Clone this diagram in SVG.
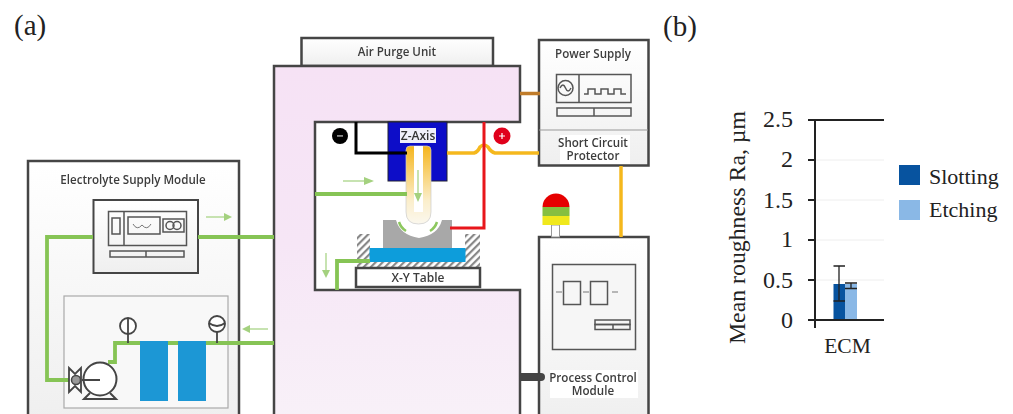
<svg xmlns="http://www.w3.org/2000/svg" width="1013" height="414" viewBox="0 0 1013 414">
<style>
.box{stroke:#444;stroke-width:2.5;fill:url(#pan)}
.thin{stroke:#555;stroke-width:1.5;fill:none}
.thinw{stroke:#555;stroke-width:1.5;fill:#f6f6f6}
.g{stroke:#86c454;stroke-width:3.8;fill:none}
.y{stroke:#f5b81f;stroke-width:3.5;fill:none}
.r{stroke:#e8141c;stroke-width:3;fill:none}
.k{stroke:#000;stroke-width:3;fill:none}
.lab{font-family:"Open Sans","Liberation Sans",sans-serif;font-weight:600;font-size:11.6px;fill:#3c3c3c;text-anchor:middle}
.ser{font-family:"Liberation Serif",serif;fill:#222}
.tick{font-size:24px;text-anchor:end}
.ax{stroke:#222;stroke-width:2;fill:none}
.grid{stroke:#eee;stroke-width:1}
.arw{stroke:#b5da98;stroke-width:1.5;fill:none}
.arwh{fill:#a4d17f}
.ag{stroke:#777;stroke-width:1;fill:none}
</style>
<defs>
<linearGradient id="pan" x1="0" y1="0" x2="0" y2="1"><stop offset="0" stop-color="#fff"/><stop offset="1" stop-color="#efefef"/></linearGradient>
<linearGradient id="pink" x1="0" y1="0" x2="0" y2="1"><stop offset="0" stop-color="#f6e2f5"/><stop offset=".5" stop-color="#f6e6f6"/><stop offset="1" stop-color="#f8f1f8"/></linearGradient>
<linearGradient id="gold" x1="0" y1="0" x2="0" y2="1"><stop offset="0" stop-color="#f5b51c"/><stop offset=".7" stop-color="#fbeecb"/><stop offset="1" stop-color="#fbf8ee"/></linearGradient>
<pattern id="hatch" width="5" height="5" patternUnits="userSpaceOnUse" patternTransform="rotate(45)"><rect width="5" height="5" fill="#fff"/><rect width="2.2" height="5" fill="#888"/></pattern>
<filter id="soft" x="-2%" y="-2%" width="104%" height="104%"><feGaussianBlur stdDeviation="0.45"/></filter>
</defs>
<rect width="1013" height="414" fill="#fff"/>
<text x="14" y="35" class="ser" font-size="29">(a)</text>
<text x="663" y="36" class="ser" font-size="29">(b)</text>
<g filter="url(#soft)">
<g id="air-purge-unit"><rect x="301.500" y="38" width="191.500" height="28" class="box"/><text x="397" y="56" class="lab">Air Purge Unit</text></g>
<g id="electrolyte-supply-module">
<rect x="28" y="161" width="211" height="260" class="box"/>
<text x="133" y="184" class="lab">Electrolyte Supply Module</text>
<rect x="93.500" y="200" width="104.500" height="73" class="box" style="stroke-width:2"/>
<rect x="108.500" y="211.500" width="78" height="34" class="thin"/><path d="M124 212V245" class="thin"/>
<rect x="112" y="218" width="8" height="16" class="thin"/>
<rect x="128" y="217" width="32" height="17" class="thin"/><path d="M133 224q4 7 9 1q5 6 9 -1" class="ag"/>
<rect x="163" y="219" width="21" height="13" class="thin"/><circle cx="170" cy="225.500" r="4" class="thin"/><circle cx="177" cy="225.500" r="4" class="thin"/>
<rect x="110" y="251" width="74" height="6" class="thin"/><path d="M146 251V257" class="thin"/>
<rect x="64" y="296" width="164" height="112" fill="#f8f8f8" stroke="#aaa" stroke-width="1.2"/>
</g>
<g id="machine-frame"><path d="M274 66H520V122H315V290H520V421H274Z" fill="url(#pink)" stroke="#444" stroke-width="2.500"/></g>
<g id="z-axis">
<rect x="388" y="122" width="59" height="59" fill="#0a0ac8" stroke="#223" stroke-width="1"/>
<rect x="400" y="128" width="36" height="15" fill="#f0f0fa"/>
<text x="418" y="140" class="lab" style="font-size:12px;fill:#333">Z-Axis</text>
<path d="M406 150q0-4 4-4h17q4 0 4 4V212q0 12-12.500 12t-12.500-12z" fill="url(#gold)" stroke="#ccc" stroke-width=".7"/>
<rect x="414" y="146" width="9" height="66" fill="#fff"/>
</g>
<g id="workpiece">
<path d="M383 220H396q4 15 23 18q19-3 23-18H452V257H383Z" fill="#a8a8a8"/>
<rect x="357" y="234" width="13" height="30" fill="url(#hatch)"/><rect x="465" y="234" width="15" height="30" fill="url(#hatch)"/>
<rect x="357" y="262" width="123" height="6" fill="url(#hatch)"/>
<rect x="369.500" y="248" width="96" height="14" fill="#0c9ddb"/>
<path d="M399 222q2 6 7 9M437 222q-2 6-7 9" stroke="#8dc85f" stroke-width="2.500" fill="none"/>
</g>
<g id="x-y-table"><rect x="356" y="268" width="124" height="19" class="box" style="fill:#fff"/><text x="418" y="282" class="lab" style="font-size:12px">X-Y Table</text></g>
<g id="power-supply">
<rect x="539" y="40" width="109.500" height="125.500" class="box"/>
<path d="M539 130H648" stroke="#999" stroke-width="1"/>
<text x="593" y="58" class="lab">Power Supply</text>
<rect x="556.500" y="74.500" width="74.500" height="28" class="thin"/><path d="M579 75V102" class="thin"/>
<circle cx="565.500" cy="88" r="7.500" class="thin"/><path d="M560 88q3-6 5.500 0t5.500 0" class="thin"/>
<path d="M584 94h4v-5h7v5h6v-5h7v5h6v-5h7v5h5" class="thin"/>
<rect x="557" y="108" width="74" height="8" class="thin"/><path d="M594 108V116" class="thin"/>
<rect x="560" y="135" width="70" height="29" fill="#fff"/>
<text x="593" y="147" class="lab">Short Circuit</text>
<text x="593" y="160" class="lab">Protector</text>
</g>
<g id="process-control-module">
<rect x="539" y="237" width="109.500" height="185" class="box"/>
<rect x="552.500" y="264.500" width="83" height="85" class="thinw"/>
<rect x="563.500" y="281.500" width="17" height="23" class="thin"/><rect x="590.500" y="281.500" width="17" height="23" class="thin"/>
<path d="M556 292H562M583 292H589M612 292H618" class="ag"/>
<rect x="595" y="320" width="35" height="4.500" class="thin"/><rect x="595" y="324.500" width="35" height="5" class="thin"/><path d="M613 324V330" class="thin"/>
<rect x="550" y="370" width="88" height="28" fill="#fff"/>
<text x="593" y="382" class="lab">Process Control</text>
<text x="593" y="395" class="lab">Module</text>
</g>
<g id="beacon">
<rect x="551.500" y="225" width="8" height="12" fill="#fff" stroke="#999"/>
<path d="M542.500 207a13.500 13.500 0 0 1 27 0z" fill="#e60000"/>
<rect x="542.500" y="207" width="27" height="9" fill="#86bf3f"/><rect x="542.500" y="216" width="27" height="9" fill="#f0e81a"/>
</g>
<g id="connectors">
<path d="M198 237H274M93 237H47V380H70" class="g"/>
<path d="M274 343H115V362H108" class="g"/>
<path d="M315 194H407" class="g"/>
<path d="M337 290V261H370" class="g"/>
<path d="M520 93.500H540" stroke="#c07b2a" stroke-width="3.500"/>
<path d="M447 153H474q4-1 6-6q4-4 8 0q3 5 7 6H539" class="y"/>
<path d="M621 166V237" class="y"/>
<path d="M356 122V153H407" class="k"/>
<path d="M484 122V228H450" class="r"/>
<path d="M521 377H541" stroke="#444" stroke-width="8"/><circle cx="541" cy="377" r="4" fill="#444"/>
<path d="M206 217H224M343 181H364M326 253V270M418 170V198M268 329H250" class="arw"/>
<path d="M224 213l8 4-8 4zM364 177l10 4-10 4zM322 270l4 8 4-8zM414 193l4 9 4-9zM250 325l-8 4 8 4z" class="arwh"/>
</g>
<g id="tanks"><rect x="140" y="341" width="28" height="60" fill="#1a97d5"/><rect x="178" y="341" width="28" height="60" fill="#1a97d5"/></g>
<g id="gauges">
<circle cx="128" cy="326" r="8" fill="#fff" stroke="#444" stroke-width="1.8"/><path d="M128 318V343" stroke="#444" stroke-width="1.8"/>
<circle cx="217" cy="324" r="8" fill="#fff" stroke="#444" stroke-width="1.8"/><path d="M209 323q8 6 16 0M217 332V343" stroke="#444" stroke-width="1.8" fill="none"/>
</g>
<g id="pump">
<path d="M69 368l6 6 6-6v24l-6-6-6 6z" fill="#fff" stroke="#444" stroke-width="1.8"/>
<circle cx="76" cy="380" r="4.500" fill="#999" stroke="#444" stroke-width="1.500"/>
<circle cx="100" cy="379" r="16.500" fill="#fff" stroke="#444" stroke-width="2"/>
<path d="M82 380H100M90 393l-6 6H116l-6-6" stroke="#444" stroke-width="2" fill="none"/>
</g>
<g id="polarity">
<circle cx="340" cy="136" r="8" fill="#000"/><rect x="337" y="135" width="6" height="1.800" fill="#888"/>
<circle cx="502" cy="136" r="8.500" fill="#e0001a"/><path d="M499 136H505M502 133V139" stroke="#fff" stroke-width="1.200"/>
</g>
</g>
<g id="chart">
<path d="M816 160H884M816 200H884M816 240H884M816 280H884" class="grid"/>
<rect x="833.500" y="284" width="11.500" height="36" fill="#07539f"/>
<rect x="845" y="284" width="12" height="36" fill="#8ab8e6"/>
<path d="M815 120V328M808 120H884M808 160H815M808 200H815M808 240H815M808 280H815M808 320H884" class="ax"/>
<path d="M839 266V301M833.500 266H845M833.500 301H845M851 283V288M845 283H857M845 288.500H857" stroke="#222" stroke-width="1.300" fill="none"/>
<text x="793" y="127" class="ser tick">2.5</text>
<text x="793" y="167" class="ser tick">2</text>
<text x="793" y="208" class="ser tick">1.5</text>
<text x="793" y="247" class="ser tick">1</text>
<text x="793" y="288" class="ser tick">0.5</text>
<text x="793" y="328" class="ser tick">0</text>
<text x="847.500" y="353" class="ser" font-size="21.500" text-anchor="middle">ECM</text>
<text transform="translate(745 227.500) rotate(-90)" class="ser" font-size="23.800" text-anchor="middle">Mean roughness Ra, µm</text>
<g id="legend-slotting"><rect x="899" y="165" width="21" height="20" fill="#07539f"/><text x="929" y="184" class="ser" font-size="22">Slotting</text></g>
<g id="legend-etching"><rect x="899" y="200" width="21" height="20" fill="#8ab8e6"/><text x="929" y="217" class="ser" font-size="22">Etching</text></g>
</g>
</svg>
